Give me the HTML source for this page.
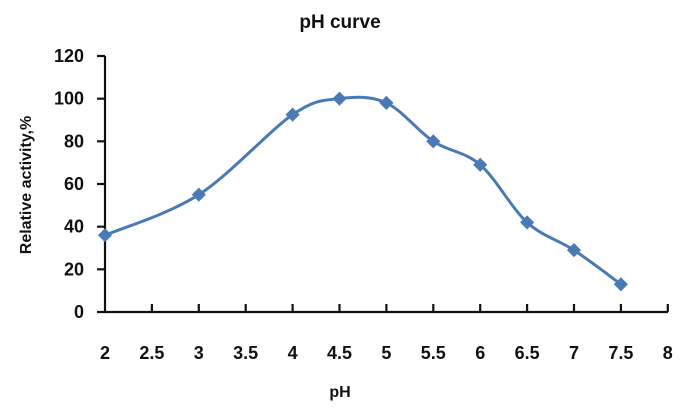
<!DOCTYPE html>
<html><head><style>body{margin:0;background:#fff}svg{display:block}text{font-family:"Liberation Sans",sans-serif;font-weight:bold;fill:#111}</style></head>
<body>
<svg id="s" width="698" height="419" viewBox="0 0 698 419">
<text x="340" y="28" font-size="19" text-anchor="middle">pH  curve</text>
<g stroke="#111" stroke-width="2.2" fill="none">
<path d="M105 56 V312 H668"/>
<path id="ticks"/>
</g>
<g id="lbl" font-size="18"></g>
<text x="340" y="397" font-size="16" text-anchor="middle">pH</text>
<text transform="translate(31,185) rotate(-90)" font-size="16" text-anchor="middle">Relative activity,%</text>
<path id="curve" fill="none" stroke="#4a7ab5" stroke-width="3"/>
<g id="mk" fill="#4a7ab5"></g>
</svg>
<script>
var X=function(v){return 105+(v-2)*93.8},Y=function(v){return 312-v*256/120};
var t="",l="";
for(var i=0;i<=6;i++){var y=Y(i*20);t+="M97 "+y+"H105";l+='<text x="84" y="'+(y+6)+'" text-anchor="end">'+(i*20)+'</text>';}
for(var i=1;i<=12;i++){var x=105+i*46.9;t+="M"+x+" 312V304";}
for(var i=0;i<=12;i++){var x=105+i*46.9;l+='<text x="'+x+'" y="359" text-anchor="middle">'+(2+i*0.5)+'</text>';}
document.getElementById("ticks").setAttribute("d",t);
document.getElementById("lbl").innerHTML=l;
var d=[[2,36],[3,55],[4,92.5],[4.5,100],[5,98],[5.5,80],[6,69],[6.5,42],[7,29],[7.5,13]];
var p=d.map(function(a){return[X(a[0]),Y(a[1])]});
var s="M"+p[0];
for(var i=0;i<p.length-1;i++){var a=p[i-1]||p[i],b=p[i],c=p[i+1],e=p[i+2]||c,k=6;
s+="C"+(b[0]+(c[0]-a[0])/k)+","+(b[1]+(c[1]-a[1])/k)+" "+(c[0]-(e[0]-b[0])/k)+","+(c[1]-(e[1]-b[1])/k)+" "+c;}
document.getElementById("curve").setAttribute("d",s);
var m="";p.forEach(function(q){m+='<rect x="'+(q[0]-5)+'" y="'+(q[1]-5)+'" width="10" height="10" transform="rotate(45 '+q[0]+' '+q[1]+')"/>';});
document.getElementById("mk").innerHTML=m;
</script>
</body></html>
